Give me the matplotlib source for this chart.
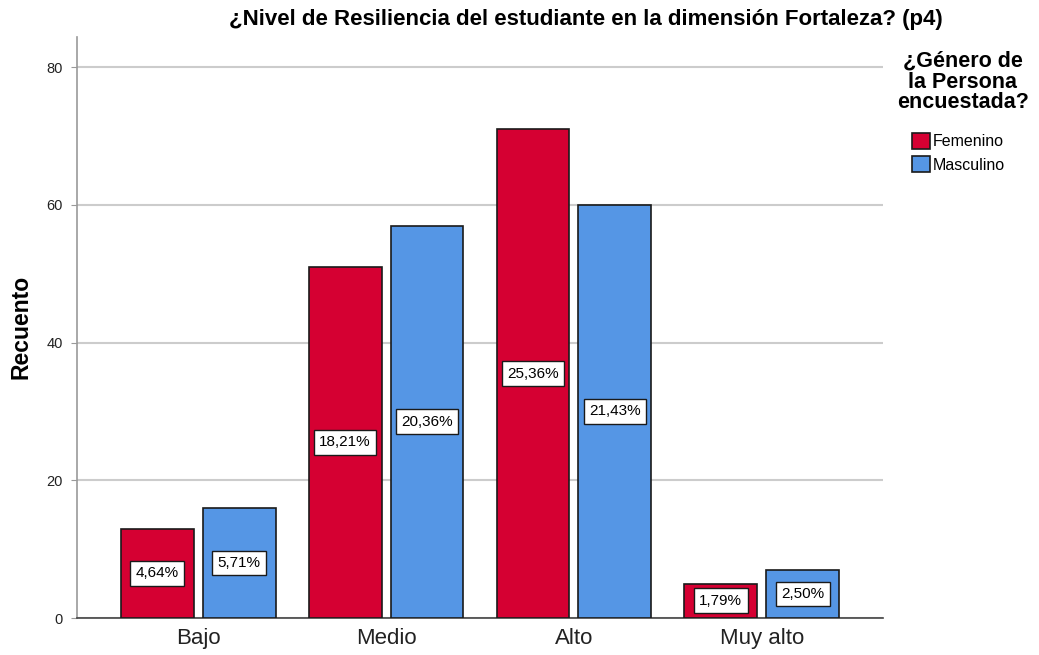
import matplotlib
matplotlib.use("Agg")
import matplotlib.pyplot as plt
import numpy as np

categories = ["Bajo", "Medio", "Alto", "Muy alto"]
femenino = [13, 51, 71, 5]
masculino = [16, 57, 60, 7]
fem_pct = ["4,64%", "18,21%", "25,36%", "1,79%"]
mas_pct = ["5,71%", "20,36%", "21,43%", "2,50%"]
yticks = [0, 20, 40, 60, 80]

plt.rcParams['font.family'] = ['Liberation Sans', 'DejaVu Sans']

fig = plt.figure(figsize=(10.39, 6.55), dpi=100)
ax = fig.add_axes([77/1039, 1-618/655, (883-77)/1039, (618-37)/655])

red = "#D50032"
blue = "#5596E5"
x = np.arange(len(categories))
w = 0.388
off = 0.218
b1 = ax.bar(x - off, femenino, w, color=red, edgecolor="#1a1a1a", linewidth=1.2, zorder=3, label="Femenino")
b2 = ax.bar(x + off, masculino, w, color=blue, edgecolor="#1a1a1a", linewidth=1.2, zorder=3, label="Masculino")

for xs, vals, labs in [(x - off, femenino, fem_pct), (x + off, masculino, mas_pct)]:
    for xi, v, l in zip(xs, vals, labs):
        ax.text(xi, v / 2, l, ha="center", va="center", fontsize=11, zorder=5,
                bbox=dict(boxstyle="square,pad=0.35", facecolor="white", edgecolor="#1a1a1a", linewidth=1.0))

ax.set_xlim(-0.645, 3.645)
ax.set_ylim(0, 84.4)
ax.set_yticks(yticks)
ax.set_yticklabels([str(t) for t in yticks], fontsize=10.5, color="#222222")
ax.set_xticks(x)
ax.set_xticklabels(categories, fontsize=16, color="#222222")
ax.tick_params(axis="x", length=0, pad=7)
ax.tick_params(axis="y", length=4, color="#999999", pad=6)
ax.yaxis.grid(True, color="#cccccc", linewidth=1.5, zorder=0)
for s in ["top", "right"]:
    ax.spines[s].set_visible(False)
ax.spines["left"].set_color("#999999")
ax.spines["left"].set_linewidth(1.2)
ax.spines["bottom"].set_color("#444444")
ax.spines["bottom"].set_linewidth(1.2)

fig.text(21/1039, 1-327/655, "Recuento", rotation=90, ha="center", va="center", fontsize=16.5, fontweight="bold")
fig.text(586/1039, 1-20/655, "¿Nivel de Resiliencia del estudiante en la dimensión Fortaleza? (p4)",
         ha="center", va="center", fontsize=16, fontweight="bold")

fig.text(963/1039, 1-82/655, "¿Género de\nla Persona\nencuestada?", ha="center", va="center",
         fontsize=15.5, fontweight="bold", linespacing=1.0)

leg = fig.legend(handles=[b1, b2], labels=["Femenino", "Masculino"],
                 loc="upper left", bbox_to_anchor=(901/1039, 1-122/655),
                 frameon=False, fontsize=11.5, handlelength=1.1, handleheight=1.1,
                 handletextpad=0.2, labelspacing=0.45, borderpad=0.2)

fig.savefig("out.png", dpi=100)
